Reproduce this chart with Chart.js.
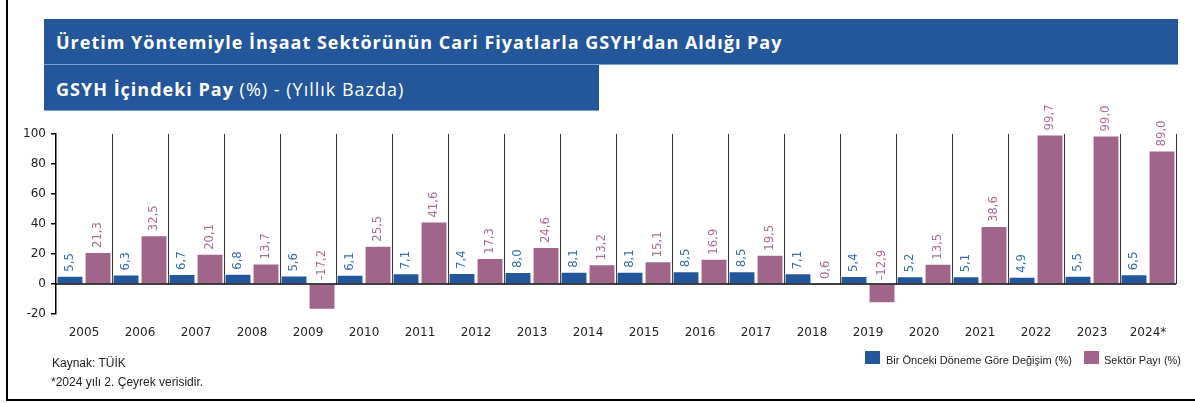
<!DOCTYPE html>
<html>
<head>
<meta charset="utf-8">
<script src="https://cdn.jsdelivr.net/npm/chart.js@4.4.0/dist/chart.umd.min.js"></script>
<style>
  html, body { margin: 0; padding: 0; background: #fff; }
  #wrap { position: relative; width: 1195px; height: 403px; overflow: hidden; }
  #c { position: absolute; left: 0; top: 0; }
  .banner { position: absolute; background: #23569b; color: #fff; font-family: 'Open Sans', sans-serif; font-size: 18px; letter-spacing: 1px; box-sizing: border-box; padding-left: 12px; white-space: nowrap; }
  #b1 { left: 44px; top: 19px; width: 1134px; height: 46px; line-height: 46px; font-weight: 700; border-bottom: 1px solid #7f9fcb; }
  #b2 { left: 44px; top: 65px; width: 555px; height: 46px; line-height: 49px; border-bottom: 1px solid #7f9fcb; }
  #b2 b { font-weight: 700; }
  .note { position: absolute; font-family: 'Liberation Sans', sans-serif; font-size: 12px; color: #222; white-space: nowrap; }
  .leg { font-size: 11px; }
  .sq { position: absolute; width: 15px; height: 13px; }
  #frameL { position: absolute; left: 6px; top: 0; width: 2px; height: 401px; background: #000; }
  #frameB { position: absolute; left: 6px; top: 399px; width: 1189px; height: 2px; background: #000; }
</style>
</head>
<body>
<div id="wrap">
  <canvas id="c" width="1195" height="403"></canvas>
  <div class="banner" id="b1">Üretim Yöntemiyle İnşaat Sektörünün Cari Fiyatlarla GSYH’dan Aldığı Pay</div>
  <div class="banner" id="b2"><b>GSYH İçindeki Pay</b> (%) - (Yıllık Bazda)</div>
  <div class="note" style="left:52px; top:356px;">Kaynak: TÜİK</div>
  <div class="note" style="left:51px; top:375px;">*2024 yılı 2. Çeyrek verisidir.</div>
  <div class="sq" style="left:865px; top:351px; background:#23569b;"></div>
  <div class="note leg" style="left:886px; top:354px;">Bir Önceki Döneme Göre Değişim (%)</div>
  <div class="sq" style="left:1084px; top:351px; background:#a0658a;"></div>
  <div class="note leg" style="left:1104px; top:354px;">Sektör Payı (%)</div>
  <div id="frameL"></div>
  <div id="frameB"></div>
</div>
<script>
const years = ['2005', '2006', '2007', '2008', '2009', '2010', '2011', '2012', '2013', '2014',
  '2015', '2016', '2017', '2018', '2019', '2020', '2021', '2022', '2023', '2024*'];
const degisim = [5.5, 6.3, 6.7, 6.8, 5.6, 6.1, 7.1, 7.4, 8.0, 8.1, 8.1, 8.5, 8.5, 7.1, 5.4, 5.2, 5.1, 4.9, 5.5, 6.5];
const sektorPayi = [21.3, 32.5, 20.1, 13.7, -17.2, 25.5, 41.6, 17.3, 24.6, 13.2, 15.1, 16.9, 19.5, 0.6, -12.9, 13.5, 38.6, 99.7, 99.0, 89.0];
const yTicks = [-20, 0, 20, 40, 60, 80, 100];

const cond = "condensed 13px 'DejaVu Sans', sans-serif";
const labelColors = ['#3b6cb0', '#a87096'];

// separators between years + zero line + rotated value labels
const extras = {
  id: 'extras',
  beforeDatasetsDraw(chart) {
    const { ctx, chartArea, scales } = chart;
    const y0 = scales.y.getPixelForValue(0);
    const step = scales.x.getPixelForTick(1) - scales.x.getPixelForTick(0);
    ctx.save();
    ctx.strokeStyle = '#333';
    ctx.lineWidth = 1;
    for (let i = 0; i < years.length; i++) {
      const x = Math.round(scales.x.getPixelForTick(i) + step / 2) + 0.5;
      ctx.beginPath();
      ctx.moveTo(x, chartArea.top);
      ctx.lineTo(x, y0);
      ctx.stroke();
    }
    ctx.restore();
  },
  afterDatasetsDraw(chart) {
    const { ctx, chartArea, scales } = chart;
    const y0 = scales.y.getPixelForValue(0);
    ctx.save();
    ctx.strokeStyle = '#000';
    ctx.lineWidth = 1.5;
    ctx.beginPath();
    ctx.moveTo(chartArea.left, y0);
    ctx.lineTo(chartArea.right, y0);
    ctx.stroke();

    ctx.font = cond;
    ctx.textAlign = 'left';
    ctx.textBaseline = 'middle';
    chart.data.datasets.forEach((ds, di) => {
      chart.getDatasetMeta(di).data.forEach((bar, i) => {
        const v = ds.data[i];
        const y = scales.y.getPixelForValue(Math.max(v, 0)) - 4;
        ctx.save();
        ctx.translate(bar.x, y);
        ctx.rotate(-Math.PI / 2);
        ctx.fillStyle = labelColors[di];
        ctx.fillText(v.toFixed(1).replace('.', ','), 0, 0);
        ctx.restore();
      });
    });
    ctx.restore();
  }
};

const tickFont = { family: "'DejaVu Sans', sans-serif", size: 12 };

const chart = new Chart(document.getElementById('c'), {
  type: 'bar',
  data: {
    labels: years,
    datasets: [{
      label: 'Bir Önceki Döneme Göre Değişim (%)',
      data: degisim,
      backgroundColor: '#23569b',
      borderColor: 'rgba(255,255,255,0.6)',
      borderWidth: 1,
      categoryPercentage: 1,
      barPercentage: 0.96
    }, {
      label: 'Sektör Payı (%)',
      data: sektorPayi,
      backgroundColor: '#a0658a',
      borderColor: 'rgba(255,255,255,0.6)',
      borderWidth: 1,
      categoryPercentage: 1,
      barPercentage: 0.96
    }]
  },
  options: {
    responsive: false,
    animation: false,
    layout: { padding: { top: 134, right: 19, bottom: 0, left: 0 } },
    plugins: { legend: { display: false }, tooltip: { enabled: false } },
    scales: {
      x: {
        grid: { display: false },
        border: { display: false },
        ticks: { color: '#222', font: tickFont, autoSkip: false, maxRotation: 0, padding: 4 },
        afterFit(scale) { scale.height = 89; }
      },
      y: {
        min: -20,
        max: 100,
        afterBuildTicks(scale) { scale.ticks = yTicks.map(v => ({ value: v })); },
        grid: { drawOnChartArea: false, drawTicks: true, tickLength: 5, color: '#000', lineWidth: 1.5 },
        border: { display: true, color: '#000', width: 1.5 },
        ticks: { color: '#222', font: tickFont, padding: 5 },
        afterFit(scale) { scale.width = 56; }
      }
    }
  },
  plugins: [extras]
});
</script>
</body>
</html>
